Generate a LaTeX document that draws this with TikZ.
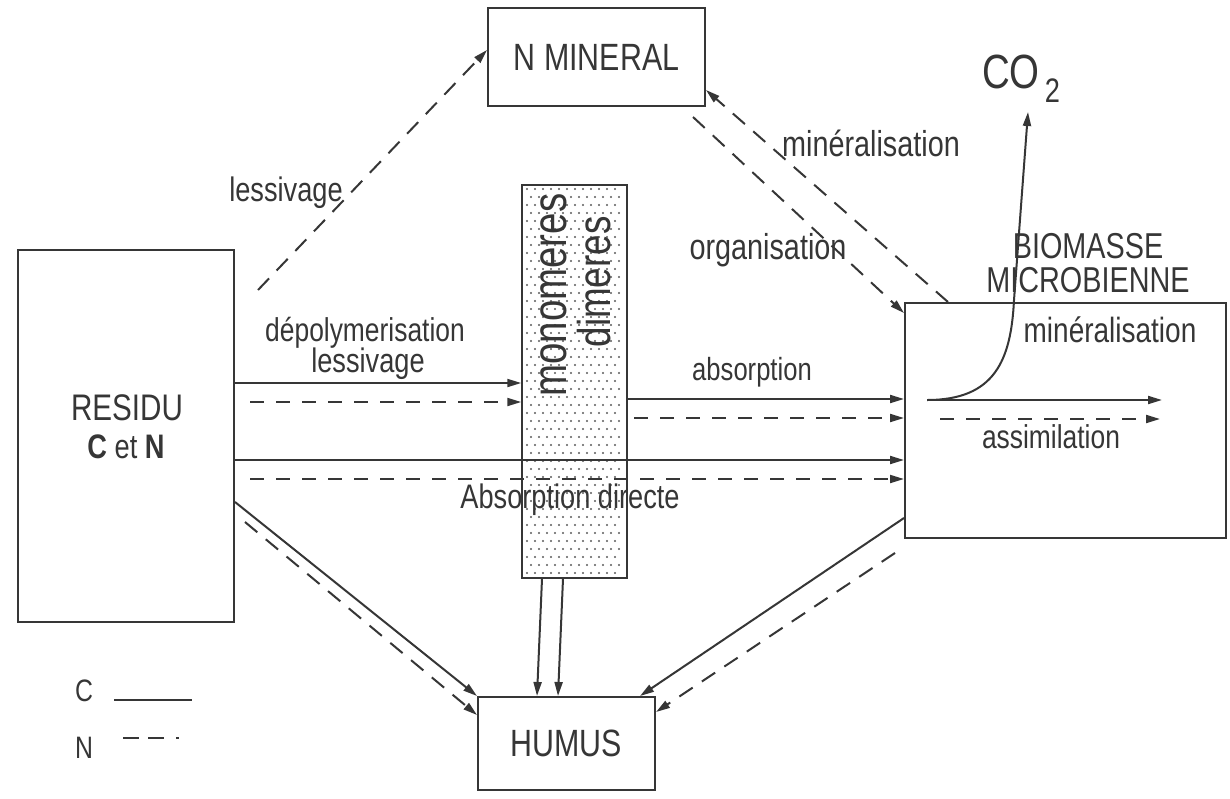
\documentclass[tikz,border=0pt]{standalone}
\usepackage{fontspec}
\setmainfont{Liberation Sans}[FakeStretch=0.8]
\usetikzlibrary{arrows.meta}
\definecolor{ink}{HTML}{363636}
\definecolor{dotc}{HTML}{5A5A5A}
\newcommand{\fsz}[1]{\fontsize{#1}{#1}\selectfont}

\begin{document}
\begin{tikzpicture}[x=1pt,y=-1pt,
  every node/.style={text=ink, inner sep=0pt},
  box/.style={draw=ink, line width=2pt, rectangle, inner sep=0pt},
  lbl/.style={font=\fsz{#1}},
  cflow/.style={draw=ink, line width=2pt, -{Triangle[length=14pt,width=8pt]}},
  nflow/.style={cflow, dash pattern=on 16pt off 11pt},
  hflow/.style={cflow, dash pattern=on 14pt off 12pt},
]
\useasboundingbox (0,0) rectangle (1230,798);

% compartments
\node[box, minimum width=217pt, minimum height=98pt, font=\fsz{38}] (nmin) at (596.5,57) {N MINERAL};
\node[box, minimum width=216pt, minimum height=372pt] (res) at (126,436) {};
\node[box, minimum width=321pt, minimum height=235pt] (bio) at (1065.5,420.5) {};
\node[box, minimum width=177pt, minimum height=93pt, font=\fsz{38}] (hum) at (566.5,743.5) {HUMUS};

% stippled column of monomers / dimers
\node[draw=ink, line width=1.5pt, minimum width=105pt, minimum height=393pt] (col) at (574.5,381.5) {};
\foreach \j in {0,...,48}
  \foreach \i in {0,...,11}
    \fill[dotc] ({527+\i*8+4*mod(\j,2)}, {189+\j*8}) circle (1.1pt);
\node[lbl=48, rotate=90, anchor=base] (tMono) at (566,295) {monomeres};
\node[lbl=46, rotate=90, anchor=base] (tDim) at (610,282) {dimeres};

% compartment titles
\node[lbl=37] (tRes) at (127,408) {RESIDU};
\node[lbl=34] (tCN) at (126,447) {{\bfseries C} et {\bfseries N}};
\node[lbl=36, anchor=base] (tBio1) at (1088,258) {BIOMASSE};
\node[lbl=36, anchor=base] (tBio2) at (1088,292) {MICROBIENNE};
\node[lbl=48, anchor=base west] (co2) at (982,88) {CO\hspace{5pt}\raisebox{-14pt}{\fsz{34}2}};

% leaching towards mineral N
\coordinate (lesA) at (258,290);
\draw[nflow] (lesA) -- (nmin.west |- 0,50);
\node[lbl=34] (tLes) at (286,193) {lessivage};

% mineralisation / organisation exchange
\draw[nflow] (bio.north -| 948,0) -- (nmin.east |- 0,90);
\node[lbl=36] (tMin) at (871,143) {minéralisation};
\coordinate (orgA) at (693,117);
\draw[nflow] (orgA) -- (bio.west |- 0,313);
\node[lbl=36] (tOrg) at (768,250) {organisation};

% depolymerisation and leaching into the column
\draw[cflow] (res.east |- 0,383) -- (col.west |- 0,383);
\coordinate (d1) at (250,402);
\draw[hflow] (d1) -- (col.west |- 0,402);
\node[lbl=33] (tDep) at (365,333) {dépolymerisation};
\node[lbl=34] (tLes2) at (368,364) {lessivage};

% absorption by the biomass
\draw[cflow] (col.east |- 0,399) -- (bio.west |- 0,399);
\coordinate (d2) at (634,418);
\draw[hflow] (d2) -- (bio.west |- 0,418);
\node[lbl=32] (tAbs) at (752,372) {absorption};

% direct absorption
\draw[cflow] (res.east |- 0,460) -- (bio.west |- 0,460);
\coordinate (d3) at (250,479);
\draw[hflow] (d3) -- (bio.west |- 0,479);
\node[lbl=34] (tAbd) at (570,500) {Absorption directe};

% humification
\draw[cflow] (res.east |- 0,502) -- (hum.north west);
\coordinate (d4) at (245,522);
\draw[nflow] (d4) -- (hum.west |- 0,715);
\draw[cflow] (col.south -| 542,0) -- (hum.north -| 537,0);
\draw[cflow] (col.south -| 563,0) -- (hum.north -| 558,0);
\draw[cflow] (bio.west |- 0,518) -- (hum.north -| 640,0);
\coordinate (d5) at (895,553);
\draw[nflow] (d5) -- (hum.east |- 0,712);

% assimilation and mineralisation inside the biomass
\coordinate (m0) at (927,400);
\coordinate (m1) at (1162,400);
\draw[cflow] (m0) -- (m1);
\coordinate (n0) at (940,419);
\coordinate (n1) at (1160,419);
\draw[hflow] (n0) -- (n1);
\coordinate (co2tip) at (1028,112);
\draw[cflow] (m0) .. controls (995,400) and (1011,360) .. (1014,300) -- (co2tip);
\node[lbl=35] (tMin2) at (1110,330) {minéralisation};
\node[lbl=33] (tAss) at (1051,437) {assimilation};

% key
\node[lbl=31] (lC) at (84,691) {C};
\node[lbl=31] (lN) at (84,748) {N};
\coordinate (lc1) at (114,700);
\coordinate (lc2) at (192,700);
\draw[ink, line width=2pt] (lc1) -- (lc2);
\coordinate (ln1) at (123,738);
\coordinate (ln2) at (192,738);
\draw[ink, line width=2pt, dash pattern=on 16pt off 9pt on 16pt off 12pt on 3pt off 40pt] (ln1) -- (ln2);
\end{tikzpicture}
\end{document}
